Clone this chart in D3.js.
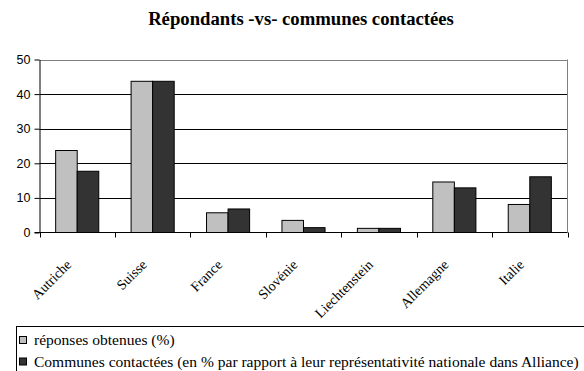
<!DOCTYPE html>
<html><head><meta charset="utf-8">
<script src="https://cdn.jsdelivr.net/npm/d3@7"></script>
</head>
<body style="margin:0">
<script>
const categories = ["Autriche","Suisse","France","Slovénie","Liechtenstein","Allemagne","Italie"];
const seriesNames = ["réponses obtenues (%)","Communes contactées (en % par rapport à leur représentativité nationale dans Alliance)"];
const reponses = [23.7, 43.7, 5.7, 3.5, 1.2, 14.6, 8.1];
const communes = [17.7, 43.7, 6.8, 1.4, 1.2, 12.9, 16.1];
const yTicks = [0,10,20,30,40,50];
const title = "Répondants -vs- communes contactées";
const colors = ["#c0c0c0","#333333"];

const W = 584, H = 371;
const svg = d3.select("body").append("svg").attr("width", W).attr("height", H)
  .style("display","block").style("font-family", '"Liberation Serif"');

const plot = {left: 39.5, right: 567.5, top: 59.5, bottom: 232.5};
const x = d3.scaleBand().domain(categories).range([plot.left, plot.right]).paddingInner(0).paddingOuter(0);
const x1 = d3.scaleBand().domain([0,1]).range([0, x.bandwidth()]).paddingInner(0).paddingOuter(0.75);
const y = d3.scaleLinear().domain([0,50]).range([plot.bottom, plot.top]);

function fit(sel, target){
  const len = sel.node().getComputedTextLength();
  const fs = parseFloat(sel.style("font-size"));
  const nfs = fs*target/len;
  sel.style("font-size", nfs+"px");
  return nfs;
}

// title
const t = svg.append("text").attr("x", 301).attr("y", 25).attr("text-anchor","middle")
  .style("font-weight","bold").style("font-size","16px").text(title);
fit(t, 306);

// gridlines
svg.append("g").selectAll("line").data(yTicks.filter(d=>d>0)).join("line")
  .attr("x1", plot.left).attr("x2", plot.right)
  .attr("y1", d=>Math.round(y(d))+0.5).attr("y2", d=>Math.round(y(d))+0.5)
  .attr("stroke", d=> d===50 ? "#808080" : "#000").attr("stroke-width",1);
svg.append("line").attr("x1", plot.right).attr("x2", plot.right).attr("y1", plot.top).attr("y2", plot.bottom)
  .attr("stroke","#808080");

// bars
const data = categories.map((c,i)=>({c, v:[reponses[i], communes[i]]}));
const g = svg.append("g").selectAll("g").data(data).join("g").attr("transform", d=>`translate(${x(d.c)},0)`);
g.selectAll("rect").data(d=>d.v.map((v,j)=>({v,j}))).join("rect")
  .attr("x", d=>x1(d.j)).attr("width", x1.bandwidth())
  .attr("y", d=>y(d.v)).attr("height", d=>y(0)-y(d.v))
  .attr("fill", d=>colors[d.j]).attr("stroke","#000").attr("stroke-width",1);

// y axis
const ya = svg.append("g").attr("transform", `translate(${plot.left},0)`)
  .call(d3.axisLeft(y).tickValues(yTicks).tickSize(5).tickSizeOuter(0).tickPadding(4));
ya.attr("font-family", "Liberation Sans").attr("font-size", 12.5);
ya.select(".domain").attr("stroke","#000");
ya.selectAll(".tick line").attr("stroke","#000");
ya.selectAll(".tick text").attr("fill","#000");

// x axis (ticks at category boundaries)
const xa = svg.append("g");
xa.append("line").attr("x1", plot.left-5).attr("x2", plot.right).attr("y1", plot.bottom).attr("y2", plot.bottom).attr("stroke","#000");
const bounds = categories.map(c=>x(c)).concat([x(categories[categories.length-1])+x.bandwidth()]);
xa.selectAll("line.tk").data(bounds).join("line").attr("class","tk")
  .attr("x1", d=>Math.round(d)+0.5).attr("x2", d=>Math.round(d)+0.5)
  .attr("y1", plot.bottom).attr("y2", plot.bottom+5).attr("stroke","#000");
xa.selectAll("text").data(categories).join("text")
  .attr("transform", d=>`translate(${x(d)+x.bandwidth()/2-5},${plot.bottom+33}) rotate(-45)`)
  .attr("text-anchor","end").style("font-size","14px").text(d=>d);

// legend
const lg = svg.append("g");
lg.append("rect").attr("x", 16.5).attr("y", 326.5).attr("width", 600).attr("height", 60)
  .attr("fill","none").attr("stroke","#000");
const lt = [];
seriesNames.forEach((s,i)=>{
  const yy = 345 + i*21.5;
  lg.append("rect").attr("x", 19.5).attr("y", yy-8.5).attr("width", 7).attr("height", 7)
    .attr("fill", colors[i]).attr("stroke","#000");
  lt.push(lg.append("text").attr("x", 34).attr("y", yy).style("font-size","14.5px").text(s));
});
const lfs = fit(lt[1], 545);
lt[0].style("font-size", lfs+"px");
</script>
</body></html>
